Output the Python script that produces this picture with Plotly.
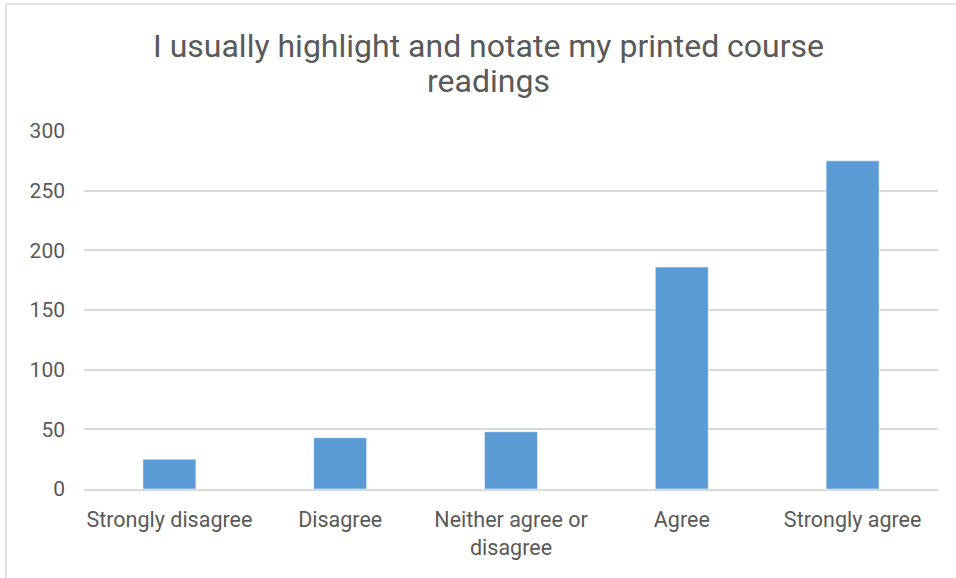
import plotly.graph_objects as go

categories = ["Strongly disagree", "Disagree", "Neither agree or<br>disagree", "Agree", "Strongly agree"]
values = [25, 43, 48, 186, 275]
title_lines = ["I usually highlight and notate my printed course", "readings"]
y_ticks = [0, 50, 100, 150, 200, 250, 300]

W, H = 956, 578
L, R, T, B = 84, 18, 131, 89
pw = W - L - R
ph = H - T - B

fig = go.Figure(go.Bar(
    x=categories, y=values,
    marker=dict(color="#5B9BD5", line=dict(color="#FFFFFF", width=0.5)),
    width=0.31,
))

def px_x(p):
    return (p - L) / pw

def px_y(p):
    return (H - B - p) / ph

annotations = [
    dict(text=t, xref="paper", yref="paper", x=px_x(W / 2 + 10), y=px_y(yc),
         xanchor="center", yanchor="middle", showarrow=False,
         font=dict(family="Roboto, sans-serif", size=32, color="#595959"))
    for t, yc in zip(title_lines, [46, 81])
]

fig.update_layout(
    width=W, height=H,
    margin=dict(l=L, r=R, t=T, b=B, autoexpand=False),
    paper_bgcolor="white", plot_bgcolor="white",
    font=dict(family="Roboto, sans-serif", size=20, color="#595959"),
    showlegend=False,
    annotations=annotations,
    xaxis=dict(showgrid=False, showline=True, linecolor="#D9D9D9", linewidth=1.5,
               ticks="", ticklabelstandoff=10, tickfont=dict(size=21.5, color="#595959"), fixedrange=True),
    yaxis=dict(range=[0, 300], tickvals=y_ticks, showgrid=True, gridcolor="#D9D9D9", gridwidth=1.5,
               zeroline=False, showline=False, ticks="", ticklabelstandoff=18,
               tickfont=dict(size=21, color="#595959")),
    shapes=[
        dict(type="line", xref="paper", yref="paper", x0=px_x(6), x1=px_x(6), y0=px_y(4), y1=px_y(H + 20),
             line=dict(color="#D9D9D9", width=1.5)),
        dict(type="line", xref="paper", yref="paper", x0=px_x(6), x1=px_x(W + 20), y0=px_y(4), y1=px_y(4),
             line=dict(color="#D9D9D9", width=1.5)),
    ],
)

fig.write_html("out.html", config={"displayModeBar": False},
               post_script="document.body.style.margin='0px';")
